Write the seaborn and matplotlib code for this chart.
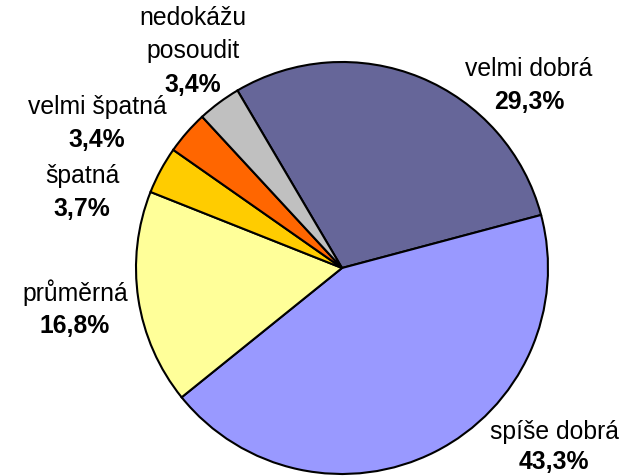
import matplotlib
matplotlib.use("Agg")
import matplotlib.pyplot as plt
import seaborn as sns

categories = ["velmi dobrá", "spíše dobrá", "průměrná", "špatná", "velmi špatná", "nedokážu\nposoudit"]
values = [29.3, 43.3, 16.8, 3.7, 3.4, 3.4]
value_labels = ["29,3%", "43,3%", "16,8%", "3,7%", "3,4%", "3,4%"]
colors = ["#666699", "#9999FF", "#FFFF99", "#FFCC00", "#FF6600", "#C0C0C0"]

sns.set_style("white")
plt.rcParams["font.family"] = ["Liberation Sans", "DejaVu Sans"]
plt.rcParams["text.color"] = "black"

W, H = 632, 476
CX, CY, R = 342, 268, 206
fig = plt.figure(figsize=(W / 100, H / 100), dpi=100)
ax = fig.add_axes([0, 0, 1, 1])
ax.pie(values, colors=colors, startangle=120.5, counterclock=False,
       radius=1.0, wedgeprops=dict(edgecolor="black", linewidth=1.5))
ax.set_xlim(-CX / R, (W - CX) / R)
ax.set_ylim(-(H - CY) / R, CY / R)
ax.set_aspect("auto")
ax.axis("off")

def px(x, y):
    return (x - CX) / R, (CY - y) / R

# label anchor positions in pixels: (center x, first name line y, value y)
label_pos = [
    (529, 69, 102),
    (554, 432, 462),
    (75, 293, 326),
    (82, 176, 209),
    (97, 107, 140),
    (193, 18, 85),
]
fs = 17.8
LINE = 33
for name, vl, (x, yn, yv) in zip(categories, value_labels, label_pos):
    for i, line in enumerate(name.split("\n")):
        xd, yd = px(x, yn + i * LINE)
        ax.text(xd, yd, line, ha="center", va="center", fontsize=fs,
                color="black")
    xd, yd = px(x, yv)
    ax.text(xd, yd, vl, ha="center", va="center", fontsize=fs,
            fontweight="bold", color="black")

fig.savefig("out.png", dpi=100, facecolor="white")
